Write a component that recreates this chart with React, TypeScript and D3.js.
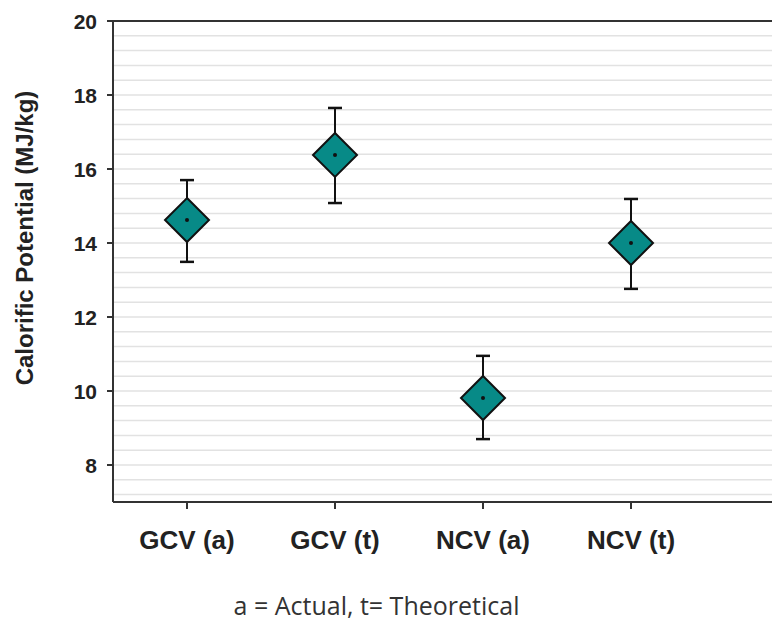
import React from "react";
import * as d3 from "d3";

const categories = ["GCV (a)", "GCV (t)", "NCV (a)", "NCV (t)"];
const means = [14.62, 16.38, 9.81, 14.0];
const lows = [13.49, 15.08, 8.7, 12.76];
const highs = [15.7, 17.65, 10.95, 15.19];
const yTicks = [8, 10, 12, 14, 16, 18, 20];

const W = 772;
const H = 624;
const left = 113;
const top = 21;
const bottom = 502;

export default function App() {
  const y = d3.scaleLinear().domain([7, 20]).range([bottom, top]);
  const x = d3
    .scaleBand<string>()
    .domain(categories)
    .range([left, left + 148 * 4])
    .padding(0);
  const cx = (c: string) => (x(c) as number) + x.bandwidth() / 2;
  const grid = d3.range(0, 33).map((i) => 20 - i * 0.4).filter((v) => v > 7.05);
  const font = "Liberation Sans, Arial, sans-serif";
  const r = 22;
  return (
    <svg
      width={W}
      height={H}
      style={{ position: "absolute", left: 0, top: 0, background: "#fff" }}
    >
      {grid.map((v, i) => (
        <line
          key={i}
          x1={left}
          x2={W}
          y1={y(v)}
          y2={y(v)}
          stroke="#e2e2e2"
          strokeWidth={1.5}
        />
      ))}
      <line x1={left} x2={W} y1={top} y2={top} stroke="#333" strokeWidth={2} />
      <line x1={left} x2={W} y1={bottom} y2={bottom} stroke="#333" strokeWidth={2} />
      <line x1={left} x2={left} y1={top} y2={bottom} stroke="#333" strokeWidth={2} />
      {yTicks.map((t) => (
        <g key={t}>
          <line x1={left - 6} x2={left} y1={y(t)} y2={y(t)} stroke="#333" strokeWidth={2} />
          <text
            x={97}
            y={y(t)}
            dy="0.36em"
            textAnchor="end"
            fontFamily={font}
            fontWeight="bold"
            fontSize={21}
            fill="#222"
          >
            {t}
          </text>
        </g>
      ))}
      {categories.map((c) => (
        <g key={c}>
          <line x1={cx(c)} x2={cx(c)} y1={bottom} y2={bottom + 7} stroke="#333" strokeWidth={2} />
          <text
            x={cx(c)}
            y={549}
            textAnchor="middle"
            fontFamily={font}
            fontWeight="bold"
            fontSize={26}
            fill="#222"
          >
            {c}
          </text>
        </g>
      ))}
      <text
        transform={`translate(33,238) rotate(-90)`}
        textAnchor="middle"
        fontFamily={font}
        fontWeight="bold"
        fontSize={24}
        fill="#222"
      >
        Calorific Potential (MJ/kg)
      </text>
      {categories.map((c, i) => {
        const px = cx(c);
        const py = y(means[i]);
        return (
          <g key={"m" + c}>
            <line x1={px} x2={px} y1={y(highs[i])} y2={y(lows[i])} stroke="#111" strokeWidth={2} />
            <line x1={px - 7} x2={px + 7} y1={y(highs[i])} y2={y(highs[i])} stroke="#111" strokeWidth={2.5} />
            <line x1={px - 7} x2={px + 7} y1={y(lows[i])} y2={y(lows[i])} stroke="#111" strokeWidth={2.5} />
            <path
              d={`M${px},${py - r}L${px + r},${py}L${px},${py + r}L${px - r},${py}Z`}
              fill="#078a87"
              stroke="#111"
              strokeWidth={2}
            />
            <circle cx={px} cy={py} r={2} fill="#111" />
          </g>
        );
      })}
      <text
        x={376.5}
        y={615}
        textAnchor="middle"
        fontFamily="Open Sans, Liberation Sans, sans-serif"
        fontSize={25}
        fill="#333"
      >
        a = Actual, t= Theoretical
      </text>
    </svg>
  );
}
